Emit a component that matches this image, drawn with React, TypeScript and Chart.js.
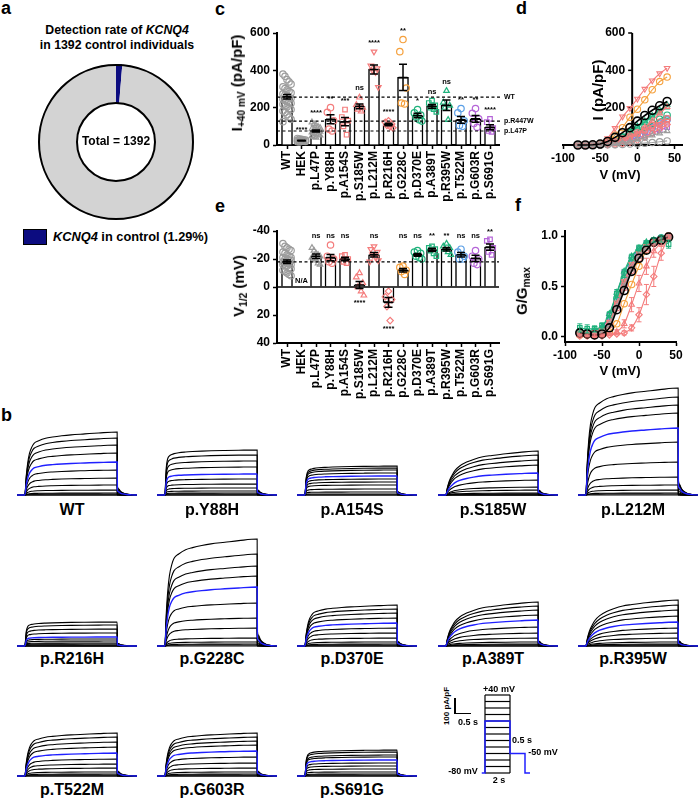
import React, { useEffect, useRef } from 'react';
import { Chart, registerables } from 'chart.js';

Chart.register(...registerables);

const FONT = '"Liberation Sans", Arial, Helvetica, sans-serif';
Chart.defaults.font.family = FONT;
Chart.defaults.color = '#000';

/* ================= DATA ================= */

/* panel a */
const aTotal = 1392;
const aCarriers = 18; // 1.29 %
const aLabels = ['KCNQ4 in control', 'Other'];

/* groups (panels c, d, e, f) */
const groups = ['WT', 'HEK', 'p.L47P', 'p.Y88H', 'p.A154S', 'p.S185W', 'p.L212M', 'p.R216H', 'p.G228C', 'p.D370E', 'p.A389T', 'p.R395W', 'p.T522M', 'p.G603R', 'p.S691G'];

/* panel c : I at +40 mV (pA/pF) */
const cMeans = [258, 24, 75, 138, 125, 207, 405, 110, 362, 158, 207, 213, 135, 140, 95];
const cSem = [12, 2, 5, 24, 22, 13, 24, 7, 70, 12, 10, 28, 18, 18, 13];
const cPoints = [
  [380, 368, 350, 338, 326, 312, 302, 295, 288, 280, 274, 268, 262, 256, 250, 245, 240, 235, 230, 224, 218, 210, 204, 196, 190, 182, 174, 162, 150, 138, 125],
  [35, 32, 30, 28, 26, 25, 24, 22, 20, 19, 18, 16],
  [122, 112, 105, 98, 92, 86, 82, 78, 75, 72, 68, 64, 60, 56, 52, 48, 44, 40],
  [200, 175, 130, 85, 75],
  [190, 150, 130, 100, 55],
  [255, 215, 200, 190, 180],
  [500, 425, 410, 400, 390, 310],
  [130, 122, 112, 105, 98, 92],
  [565, 500, 305, 225, 220],
  [190, 172, 160, 150, 135, 128],
  [238, 225, 212, 200, 192, 178],
  [290, 228, 212, 200, 135],
  [195, 172, 130, 105, 100],
  [195, 170, 140, 115, 95],
  [140, 122, 90, 75, 70],
];
const cSig = ['', '****', '****', '**', '***', 'ns', '****', '****', '**', '*', 'ns', 'ns', '**', '**', '****'];
const cRefValues = [257, 128, 75];
const cRefLabels = ['WT', 'p.R447W', 'p.L47P'];

/* panel e : V1/2 (mV) */
const eMeans = [-18, null, -22, -21, -20, -1.5, -23, 11, -12, -23, -26.5, -27, -23, -20.5, -28.5];
const eSem = [1.2, 0, 1.6, 2.3, 1.3, 2.5, 1.6, 3.5, 1.2, 1.0, 1.2, 1.3, 1.6, 2.2, 2.2];
const ePoints = [
  [-31, -29, -28, -27, -26, -25, -24, -23, -22, -21, -21, -20, -20, -19, -19, -18, -18, -17, -17, -16, -16, -15, -15, -14, -13, -12, -11, -10, -9, -8],
  [],
  [-28, -26, -24, -23, -22, -21, -20, -19, -17, -16],
  [-30, -22, -20, -18, -17],
  [-23, -22, -20, -18, -17],
  [-10, -7, -3, 0, 3, 6],
  [-29, -27, -25, -23, -21, -19, -18],
  [3, 7, 9, 14, 24],
  [-15, -14, -12, -11, -9],
  [-26, -25, -24, -22, -21, -20],
  [-29, -28, -27, -26, -24, -22],
  [-31, -29, -28, -27, -25, -23],
  [-27, -25, -22, -20, -20],
  [-26, -22, -20, -17, -16],
  [-34, -33, -28, -25, -23],
];
const eSig = ['', 'N/A', 'ns', 'ns', 'ns', '****', 'ns', '****', 'ns', 'ns', '**', '**', 'ns', 'ns', '**'];
const eSigBelow = [false, false, false, false, false, true, false, true, false, false, false, false, false, false, false];
const eRefValue = -18;

/* panels d, f */
const volts = [-80, -70, -60, -50, -40, -30, -20, -10, 0, 10, 20, 30, 40];
const dCurves = [
  [0, 0, 1, 5, 19, 41, 66, 93, 128, 158, 186, 210, 233],
  [0, 0, 0, 0, 1, 2, 3, 5, 7, 10, 13, 17, 22],
  [0, 0, 0, 1, 3, 7, 12, 20, 30, 40, 52, 63, 75],
  [0, 0, 0, 2, 8, 18, 32, 48, 66, 85, 104, 122, 140],
  [0, 0, 0, 2, 7, 16, 28, 42, 58, 75, 92, 108, 125],
  [0, 0, 0, 1, 3, 8, 18, 35, 60, 95, 130, 170, 205],
  [0, 0, 1, 5, 36, 90, 152, 197, 247, 300, 345, 383, 412],
  [0, 0, 0, 0, 1, 3, 7, 14, 25, 42, 63, 86, 110],
  [0, 0, 0, 4, 18, 54, 93, 149, 192, 242, 296, 340, 364],
  [0, 0, 0, 2, 9, 20, 36, 55, 75, 95, 117, 138, 160],
  [0, 0, 0, 3, 12, 26, 46, 70, 96, 122, 150, 178, 205],
  [0, 0, 0, 3, 12, 27, 48, 73, 100, 128, 157, 186, 215],
  [0, 0, 0, 2, 7, 15, 27, 40, 55, 72, 91, 113, 135],
  [0, 0, 0, 2, 7, 16, 28, 42, 58, 76, 96, 118, 140],
  [0, 0, 0, 1, 5, 11, 19, 28, 38, 50, 63, 79, 95],
];
const fCurves = [
  [0.04, 0.03, 0.02, 0.03, 0.09, 0.27, 0.46, 0.65, 0.78, 0.86, 0.94, 0.96, 0.99],
  null,
  [0.03, 0.03, 0.03, 0.05, 0.12, 0.3, 0.5, 0.67, 0.8, 0.88, 0.93, 0.97, 1.0],
  [0.03, 0.03, 0.03, 0.05, 0.12, 0.29, 0.49, 0.66, 0.78, 0.87, 0.93, 0.97, 1.0],
  [0.03, 0.03, 0.04, 0.06, 0.14, 0.32, 0.52, 0.68, 0.8, 0.88, 0.94, 0.97, 1.0],
  [0.02, 0.02, 0.02, 0.02, 0.03, 0.05, 0.13, 0.32, 0.53, 0.7, 0.85, 0.93, 0.98],
  [0.03, 0.03, 0.04, 0.06, 0.15, 0.34, 0.55, 0.72, 0.83, 0.9, 0.95, 0.98, 1.0],
  [0.01, 0.01, 0.01, 0.01, 0.02, 0.03, 0.04, 0.09, 0.22, 0.42, 0.6, 0.83, 0.99],
  [0.02, 0.02, 0.02, 0.03, 0.05, 0.13, 0.33, 0.52, 0.7, 0.86, 0.93, 0.97, 1.0],
  [0.05, 0.04, 0.05, 0.07, 0.17, 0.38, 0.58, 0.74, 0.85, 0.91, 0.95, 0.98, 1.0],
  [0.09, 0.08, 0.08, 0.11, 0.22, 0.43, 0.63, 0.79, 0.88, 0.93, 0.96, 0.97, 0.92],
  [0.07, 0.06, 0.07, 0.1, 0.23, 0.44, 0.65, 0.8, 0.88, 0.94, 0.96, 0.98, 0.99],
  [0.04, 0.04, 0.05, 0.07, 0.16, 0.35, 0.56, 0.72, 0.84, 0.91, 0.95, 0.98, 1.0],
  [0.03, 0.03, 0.04, 0.06, 0.14, 0.32, 0.52, 0.69, 0.81, 0.89, 0.94, 0.97, 1.0],
  [0.05, 0.05, 0.06, 0.09, 0.21, 0.43, 0.64, 0.78, 0.87, 0.93, 0.96, 0.98, 1.0],
];
const fSem = [
  null, null, null, null, null,
  [0.01, 0.01, 0.01, 0.01, 0.01, 0.02, 0.04, 0.07, 0.08, 0.08, 0.06, 0.03, 0.01],
  null,
  [0.01, 0.01, 0.01, 0.01, 0.01, 0.01, 0.02, 0.03, 0.07, 0.1, 0.1, 0.07, 0.02],
  null, null,
  [0.04, 0.04, 0.03, 0.03, 0.03, 0.04, 0.04, 0.03, 0.03, 0.02, 0.02, 0.03, 0.04],
  null, null, null, null,
];

/* panel b : current traces (pA/pF) */
const traceNames = ['WT', 'p.Y88H', 'p.A154S', 'p.S185W', 'p.L212M', 'p.R216H', 'p.G228C', 'p.D370E', 'p.A389T', 'p.R395W', 'p.T522M', 'p.G603R', 'p.S691G'];
const traceT = [-0.17, 0, 0.03, 0.06, 0.1, 0.15, 0.2, 0.3, 0.45, 0.6, 0.8, 1.0, 1.3, 1.6, 2.0, 2.005, 2.03, 2.07, 2.12, 2.2, 2.3, 2.43];
const shapeMid = [0, 0, 0.3, 0.5, 0.66, 0.76, 0.82, 0.86, 0.9, 0.92, 0.94, 0.955, 0.97, 0.985, 1.0, 0.14, 0.1, 0.06, 0.035, 0.015, 0.005, 0];
const shapeFast = [0, 0, 0.6, 0.8, 0.87, 0.9, 0.92, 0.94, 0.955, 0.965, 0.975, 0.983, 0.99, 0.995, 1.0, 0.14, 0.1, 0.06, 0.035, 0.015, 0.005, 0];
const shapeSlow = [0, 0, 0.15, 0.27, 0.38, 0.48, 0.56, 0.66, 0.75, 0.81, 0.87, 0.9, 0.94, 0.97, 1.0, 0.14, 0.1, 0.06, 0.035, 0.015, 0.005, 0];
const traceKinetics = ['mid', 'fast', 'fast', 'slow', 'mid', 'fast', 'mid', 'mid', 'slow', 'slow', 'mid', 'mid', 'fast'];
const traceAmps = [
  [0, 0, 7, 13, 33, 67, 113, 167, 220, 280, 333, 380, 420],
  [0, 0, 7, 13, 27, 47, 73, 107, 140, 187, 227, 267, 300],
  [0, 0, 7, 20, 40, 67, 87, 107, 127, 147, 167, 180, 193],
  [0, 0, 0, 7, 13, 33, 53, 100, 147, 200, 233, 267, 293],
  [0, 7, 13, 33, 67, 120, 220, 353, 447, 547, 600, 653, 713],
  [0, 0, 0, 7, 13, 20, 33, 47, 60, 87, 113, 140, 160],
  [0, 7, 13, 27, 53, 120, 187, 287, 393, 467, 533, 613, 713],
  [0, 0, 7, 13, 27, 53, 87, 120, 153, 187, 220, 247, 273],
  [0, 0, 7, 13, 27, 53, 87, 127, 173, 207, 240, 267, 293],
  [0, 0, 7, 13, 27, 53, 87, 120, 160, 200, 240, 273, 307],
  [0, 0, 7, 13, 27, 53, 80, 113, 153, 193, 227, 260, 287],
  [0, 0, 7, 13, 27, 53, 87, 127, 167, 207, 233, 260, 287],
  [0, 0, 7, 13, 27, 47, 67, 87, 107, 127, 140, 160, 173],
];
const blueSweep = 8; // 0 mV sweep

/* voltage protocol */
const protoLevels = [-80, -70, -60, -50, -40, -30, -20, -10, 0, 10, 20, 30, 40];
const protoStepDur = 2;
const protoBlueT = [-0.26, 0, 0, 2, 2, 3.2, 3.2, 3.6];
const protoBlueV = [-80, -80, 0, 0, -50, -50, -80, -80];

/* ================= STYLES ================= */
const GREY = '#9c9c9c';
const PINK = '#f47c7c';
const ORANGE = '#f5a03c';
const GREEN = '#1fb27c';
const BLUE = '#5b9fe6';
const PURPLE = '#b565d8';
const NAVY = '#0c0c80';
const TRACE_BLUE = '#2020ff';
const groupColor = [GREY, GREY, GREY, PINK, PINK, PINK, PINK, PINK, ORANGE, GREEN, GREEN, GREEN, BLUE, PURPLE, PURPLE];
const groupMarker = ['circle', 'circle', 'triangle', 'circle', 'rect', 'triangle', 'triangle', 'rectRot', 'circle', 'circle', 'rect', 'triangle', 'circle', 'circle', 'rect'];
const groupRot = [0, 0, 0, 0, 0, 0, 180, 0, 0, 0, 0, 0, 0, 0, 0];

const tickFont = { size: 12, weight: 'bold' as const, family: FONT };

function jitter(k: number, n: number) {
  if (n > 8) {
    const cols = 5;
    return ((k % cols) - (cols - 1) / 2) * 0.14;
  }
  const pat = [0, -0.22, 0.22, -0.11, 0.11, 0.3, -0.3];
  return pat[k % pat.length];
}

const baseOptions = () => ({
  animation: false,
  responsive: false,
  maintainAspectRatio: false,
  devicePixelRatio: 1,
  events: [],
});

/* ================= PLUGINS ================= */
function errPlugin(id: string, items: any[], cap: number, mean: number, lw: number) {
  return {
    id,
    afterDatasetsDraw(chart: any) {
      const { ctx, scales } = chart;
      const xs = scales.x;
      const ys = scales.y;
      ctx.save();
      ctx.lineWidth = lw;
      for (const it of items) {
        if (it.y == null) continue;
        const px = xs.getPixelForValue(it.x);
        const p1 = ys.getPixelForValue(it.y - it.e);
        const p2 = ys.getPixelForValue(it.y + it.e);
        const pm = ys.getPixelForValue(it.y);
        ctx.strokeStyle = it.color || '#000';
        ctx.beginPath();
        ctx.moveTo(px, p1);
        ctx.lineTo(px, p2);
        ctx.moveTo(px - cap, p1);
        ctx.lineTo(px + cap, p1);
        ctx.moveTo(px - cap, p2);
        ctx.lineTo(px + cap, p2);
        if (mean > 0) {
          ctx.moveTo(px - mean, pm);
          ctx.lineTo(px + mean, pm);
        }
        ctx.stroke();
      }
      ctx.restore();
    },
  };
}

function sigPlugin(id: string, items: any[]) {
  return {
    id,
    afterDatasetsDraw(chart: any) {
      const { ctx, scales } = chart;
      ctx.save();
      ctx.fillStyle = '#000';
      ctx.font = `bold 7.5px ${FONT}`;
      ctx.textAlign = 'center';
      ctx.textBaseline = 'middle';
      for (const it of items) {
        if (!it.text) continue;
        ctx.fillText(it.text, scales.x.getPixelForValue(it.x), scales.y.getPixelForValue(it.v) + it.dy);
      }
      ctx.restore();
    },
  };
}

function hLinePlugin(id: string, lines: any[]) {
  return {
    id,
    afterDatasetsDraw(chart: any) {
      const { ctx, chartArea, scales } = chart;
      ctx.save();
      for (const ln of lines) {
        const py = scales.y.getPixelForValue(ln.v);
        ctx.strokeStyle = '#000';
        ctx.lineWidth = ln.width;
        ctx.setLineDash(ln.dash);
        ctx.beginPath();
        ctx.moveTo(chartArea.left, py);
        ctx.lineTo(chartArea.right + ln.ext, py);
        ctx.stroke();
        if (ln.label) {
          ctx.setLineDash([]);
          ctx.fillStyle = '#000';
          ctx.font = `bold 7px ${FONT}`;
          ctx.textAlign = 'left';
          ctx.textBaseline = 'middle';
          ctx.fillText(ln.label, chartArea.right + ln.ext + 2, py);
        }
      }
      ctx.restore();
    },
  };
}

const ringPlugin = {
  id: 'ringBorder',
  afterDatasetsDraw(chart: any) {
    const arc = chart.getDatasetMeta(0).data[0];
    if (!arc) return;
    const { x, y, outerRadius, innerRadius } = arc.getProps(['x', 'y', 'outerRadius', 'innerRadius'], true);
    const ctx = chart.ctx;
    ctx.save();
    ctx.strokeStyle = '#000';
    ctx.lineWidth = 2;
    ctx.beginPath();
    ctx.arc(x, y, outerRadius - 1, 0, Math.PI * 2);
    ctx.stroke();
    ctx.beginPath();
    ctx.arc(x, y, innerRadius, 0, Math.PI * 2);
    ctx.stroke();
    ctx.restore();
  },
};

const D_YAXIS_AT = -7;
const dYAxisPlugin = {
  id: 'dYAxis',
  beforeDatasetsDraw(chart: any) {
    const { ctx, scales } = chart;
    const px = scales.x.getPixelForValue(D_YAXIS_AT);
    const top = scales.y.getPixelForValue(600);
    const bot = scales.y.getPixelForValue(0);
    ctx.save();
    ctx.strokeStyle = '#000';
    ctx.lineWidth = 2;
    ctx.beginPath();
    ctx.moveTo(px, top);
    ctx.lineTo(px, bot);
    ctx.stroke();
    ctx.lineWidth = 1.5;
    ctx.font = `bold 12px ${FONT}`;
    ctx.fillStyle = '#000';
    ctx.textAlign = 'right';
    ctx.textBaseline = 'middle';
    for (const v of [200, 400, 600]) {
      const py = scales.y.getPixelForValue(v);
      ctx.beginPath();
      ctx.moveTo(px - 4, py);
      ctx.lineTo(px, py);
      ctx.stroke();
      ctx.fillText(String(v), px - 7, py);
    }
    ctx.restore();
  },
};

/* ================= CONFIGS ================= */
function axisCommon() {
  return {
    grid: { display: true, drawOnChartArea: false, drawTicks: true, tickLength: 4, tickWidth: 1.5, tickColor: '#000', offset: false },
    border: { display: true, color: '#000', width: 2 },
  };
}

function doughnutConfig() {
  return {
    type: 'doughnut',
    data: {
      labels: aLabels,
      datasets: [{ data: [aCarriers, aTotal - aCarriers], backgroundColor: [NAVY, '#d3d3d3'], borderWidth: 0 }],
    },
    options: {
      ...baseOptions(),
      cutout: '50%',
      layout: { padding: 2 },
      plugins: { legend: { display: false }, tooltip: { enabled: false } },
    },
    plugins: [ringPlugin],
  };
}

function catXScale(height: number) {
  return {
    type: 'linear',
    min: -0.69,
    max: 14.62,
    offset: false,
    ...axisCommon(),
    afterBuildTicks: (s: any) => {
      s.ticks = groups.map((_, i) => ({ value: i }));
    },
    ticks: {
      autoSkip: false,
      minRotation: 90,
      maxRotation: 90,
      padding: 2,
      font: tickFont,
      color: '#000',
      callback: (v: any) => groups[Math.round(Number(v))] ?? '',
    },
    afterFit: (s: any) => {
      s.height = height;
    },
  };
}

function scatterSets(points: number[][]) {
  return points.map((pts, i) => ({
    type: 'scatter',
    data: pts.map((v, k) => ({ x: i + jitter(k, pts.length), y: v })),
    pointStyle: groupMarker[i],
    pointRotation: groupRot[i],
    pointRadius: 3.2,
    pointBorderWidth: 1.2,
    pointBorderColor: groupColor[i],
    pointBackgroundColor: 'rgba(255,255,255,0)',
    showLine: false,
    order: 1,
    clip: false,
  }));
}

function cConfig() {
  const bars = {
    type: 'bar',
    data: cMeans.map((m, i) => ({ x: i, y: m })),
    backgroundColor: '#fff',
    borderColor: '#000',
    borderWidth: 1.5,
    barThickness: 11,
    order: 5,
  };
  const errs = cMeans.map((m, i) => ({ x: i, y: m, e: cSem[i] }));
  const sigs = cPoints.map((pts, i) => ({ x: i, v: Math.max(...pts), dy: -9, text: cSig[i] }));
  return {
    type: 'bar',
    data: { datasets: [...scatterSets(cPoints), bars] },
    options: {
      ...baseOptions(),
      layout: { padding: { left: 0, right: 56, top: 33, bottom: 0 } },
      plugins: { legend: { display: false }, tooltip: { enabled: false } },
      scales: {
        x: catXScale(65),
        y: {
          type: 'linear',
          min: 0,
          max: 600,
          ...axisCommon(),
          ticks: { stepSize: 200, font: tickFont, color: '#000', padding: 3 },
          afterFit: (s: any) => {
            s.width = 57;
          },
        },
      },
    },
    plugins: [
      errPlugin('cErr', errs, 4, 4.5, 1.5),
      sigPlugin('cSig', sigs),
      hLinePlugin('cRef', cRefValues.map((v, i) => ({ v, label: cRefLabels[i], dash: [3, 2.5], width: 1.2, ext: 3 }))),
    ],
  };
}

function eConfig() {
  const bars = {
    type: 'bar',
    data: eMeans.map((m, i) => ({ x: i, y: m })),
    backgroundColor: '#fff',
    borderColor: '#000',
    borderWidth: 1.5,
    barThickness: 11,
    order: 5,
  };
  const errs = eMeans.map((m, i) => ({ x: i, y: m, e: eSem[i] }));
  const sigs = ePoints.map((pts, i) => {
    if (eSig[i] === 'N/A') return { x: i, v: 0, dy: -6, text: 'N/A' };
    if (!pts.length) return { x: i, v: 0, dy: 0, text: '' };
    if (eSigBelow[i]) return { x: i, v: Math.max(...pts), dy: 8, text: eSig[i] };
    return { x: i, v: Math.min(-36.5, Math.min(...pts) - 5.5), dy: 0, text: eSig[i] };
  });
  return {
    type: 'bar',
    data: { datasets: [...scatterSets(ePoints), bars] },
    options: {
      ...baseOptions(),
      layout: { padding: { left: 0, right: 56, top: 31, bottom: 0 } },
      plugins: { legend: { display: false }, tooltip: { enabled: false } },
      scales: {
        x: catXScale(57),
        y: {
          type: 'linear',
          reverse: true,
          min: -40,
          max: 40,
          ...axisCommon(),
          ticks: { stepSize: 20, font: tickFont, color: '#000', padding: 3 },
          afterFit: (s: any) => {
            s.width = 57;
          },
        },
      },
    },
    plugins: [
      hLinePlugin('eRef', [
        { v: 0, dash: [], width: 1.5, ext: 0 },
        { v: eRefValue, dash: [3, 2.5], width: 1.2, ext: 0 },
      ]),
      errPlugin('eErr', errs, 4, 4.5, 1.5),
      sigPlugin('eSig', sigs),
    ],
  };
}

function curveSets(curves: any[], smooth: boolean) {
  const out: any[] = [];
  curves.forEach((c, i) => {
    if (!c) return;
    const wt = i === 0;
    const col = wt ? '#000' : groupColor[i];
    out.push({
      type: 'line',
      label: groups[i],
      data: volts.map((v, k) => ({ x: v, y: c[k] })),
      borderColor: col,
      borderWidth: wt ? 1.6 : 1.1,
      pointStyle: groupMarker[i],
      pointRotation: groupRot[i],
      pointRadius: wt ? 4 : 3.2,
      pointBorderWidth: wt ? 1.6 : 1.1,
      pointBorderColor: col,
      pointBackgroundColor: 'rgba(255,255,255,0)',
      cubicInterpolationMode: smooth ? 'monotone' : 'default',
      tension: 0,
      order: wt ? 0 : 1,
      clip: false,
    });
  });
  return out;
}

function dConfig() {
  return {
    type: 'line',
    data: { datasets: curveSets(dCurves, false) },
    options: {
      ...baseOptions(),
      layout: { padding: { left: 23, right: 17, top: 33, bottom: 0 } },
      plugins: { legend: { display: false }, tooltip: { enabled: false } },
      scales: {
        x: {
          type: 'linear',
          min: -100,
          max: 60,
          ...axisCommon(),
          afterBuildTicks: (s: any) => {
            s.ticks = [-100, -50, 0, 50].map((value) => ({ value }));
          },
          ticks: { font: tickFont, color: '#000', padding: 2, maxRotation: 0 },
          afterFit: (s: any) => {
            s.height = 25;
          },
        },
        y: { type: 'linear', min: 0, max: 600, display: false },
      },
    },
    plugins: [dYAxisPlugin],
  };
}

function fConfig() {
  const errs: any[] = [];
  fSem.forEach((s, i) => {
    if (!s || !fCurves[i]) return;
    volts.forEach((v, k) => errs.push({ x: v, y: (fCurves[i] as number[])[k], e: s[k], color: groupColor[i] }));
  });
  return {
    type: 'line',
    data: { datasets: curveSets(fCurves, true) },
    options: {
      ...baseOptions(),
      layout: { padding: { left: 0, right: 23, top: 31, bottom: 0 } },
      plugins: { legend: { display: false }, tooltip: { enabled: false } },
      scales: {
        x: {
          type: 'linear',
          min: -100,
          max: 50,
          ...axisCommon(),
          afterBuildTicks: (s: any) => {
            s.ticks = [-100, -50, 0, 50].map((value) => ({ value }));
          },
          ticks: { font: tickFont, color: '#000', padding: 2, maxRotation: 0 },
          afterFit: (s: any) => {
            s.height = 38;
          },
        },
        y: {
          type: 'linear',
          min: -0.05,
          max: 1.05,
          ...axisCommon(),
          afterBuildTicks: (s: any) => {
            s.ticks = [0, 0.5, 1].map((value) => ({ value }));
          },
          ticks: { font: tickFont, color: '#000', padding: 3, callback: (v: any) => Number(v).toFixed(1) },
          afterFit: (s: any) => {
            s.width = 45;
          },
        },
      },
    },
    plugins: [errPlugin('fErr', errs, 2.5, 0, 1)],
  };
}

function traceConfig(p: number) {
  const shape = traceKinetics[p] === 'fast' ? shapeFast : traceKinetics[p] === 'slow' ? shapeSlow : shapeMid;
  const datasets = traceAmps[p].map((amp, i) => ({
    data: traceT.map((t, k) => ({ x: t, y: amp * shape[k] })),
    borderColor: i === blueSweep ? TRACE_BLUE : '#000',
    borderWidth: i === blueSweep ? 1.4 : 1.1,
    pointRadius: 0,
    cubicInterpolationMode: 'monotone',
    order: i === blueSweep ? 0 : 1,
    clip: false,
  }));
  return {
    type: 'line',
    data: { datasets },
    options: {
      ...baseOptions(),
      layout: { padding: 0 },
      plugins: { legend: { display: false }, tooltip: { enabled: false } },
      scales: {
        x: { type: 'linear', display: false, min: -0.17, max: 2.43 },
        y: { type: 'linear', display: false, min: -13.33, max: 753.33 },
      },
    },
  };
}

function protoConfig() {
  const datasets: any[] = protoLevels.map((L) => ({
    data: [
      { x: 0, y: L },
      { x: protoStepDur, y: L },
    ],
    borderColor: '#000',
    borderWidth: 1.2,
    pointRadius: 0,
    order: 2,
    clip: false,
  }));
  [0, protoStepDur].forEach((t) =>
    datasets.push({
      data: [
        { x: t, y: protoLevels[0] },
        { x: t, y: protoLevels[protoLevels.length - 1] },
      ],
      borderColor: '#000',
      borderWidth: 1.2,
      pointRadius: 0,
      order: 2,
      clip: false,
    })
  );
  datasets.push({
    data: protoBlueT.map((t, k) => ({ x: t, y: protoBlueV[k] })),
    borderColor: TRACE_BLUE,
    borderWidth: 1.5,
    pointRadius: 0,
    order: 0,
    clip: false,
  });
  return {
    type: 'line',
    data: { datasets },
    options: {
      ...baseOptions(),
      layout: { padding: 0 },
      plugins: { legend: { display: false }, tooltip: { enabled: false } },
      scales: {
        x: { type: 'linear', display: false, min: -0.64, max: 4.16 },
        y: { type: 'linear', display: false, min: -90.77, max: 47.69 },
      },
    },
  };
}

/* ================= COMPONENTS ================= */
function ChartBox({ left, top, width, height, config }: { left: number; top: number; width: number; height: number; config: () => any }) {
  const ref = useRef<HTMLCanvasElement | null>(null);
  useEffect(() => {
    if (!ref.current) return;
    const chart = new Chart(ref.current, config());
    return () => chart.destroy();
  }, []);
  return <canvas ref={ref} width={width} height={height} style={{ position: 'absolute', left, top, width, height }} />;
}

function Txt(props: { x: number; y: number; size: number; anchor?: string; rotate?: number; bold?: boolean; children: any }) {
  const { x, y, size, anchor = 'center', rotate = 0, bold = true, children } = props;
  const tx = anchor === 'left' ? '0%' : anchor === 'right' ? '-100%' : '-50%';
  return (
    <div
      style={{
        position: 'absolute',
        left: x,
        top: y,
        fontSize: size,
        fontWeight: bold ? 700 : 400,
        lineHeight: 1,
        whiteSpace: 'nowrap',
        color: '#000',
        transform: `translate(${tx}, -50%)${rotate ? ` rotate(${rotate}deg)` : ''}`,
        transformOrigin: anchor === 'left' ? 'left center' : 'center center',
      }}
    >
      {children}
    </div>
  );
}

const sub = (s: string) => <span style={{ fontSize: '0.68em', verticalAlign: '-0.3em' }}>{s}</span>;

const traceLeft = [17, 157, 297, 438, 578, 17, 157, 297, 438, 578, 17, 157, 297];
const traceBase = [495, 495, 495, 495, 495, 646, 646, 646, 646, 646, 776, 776, 776];
const traceLabelY = [510, 510, 510, 510, 510, 659, 659, 659, 659, 659, 790, 790, 790];
const TRACE_H = 115;

export default function App() {
  return (
    <div style={{ position: 'absolute', left: 0, top: 0, width: 699, height: 799, background: '#fff', overflow: 'hidden', fontFamily: FONT }}>
      {/* panel letters */}
      <Txt x={1} y={8} size={18} anchor="left">a</Txt>
      <Txt x={1} y={415} size={18} anchor="left">b</Txt>
      <Txt x={215} y={9} size={18} anchor="left">c</Txt>
      <Txt x={516} y={8} size={18} anchor="left">d</Txt>
      <Txt x={215} y={206} size={18} anchor="left">e</Txt>
      <Txt x={515} y={205} size={18} anchor="left">f</Txt>

      {/* panel a */}
      <Txt x={117} y={30} size={12.3}>
        Detection rate of <i>KCNQ4</i>
      </Txt>
      <Txt x={117} y={45} size={12.3}>in 1392 control individuals</Txt>
      <ChartBox left={36} top={62} width={160} height={160} config={doughnutConfig} />
      <Txt x={116} y={141} size={12}>Total = 1392</Txt>
      <div style={{ position: 'absolute', left: 23, top: 229, width: 24, height: 16, background: NAVY, border: '1.5px solid #000', boxSizing: 'border-box' }} />
      <Txt x={53} y={237} size={12.8} anchor="left">
        <i>KCNQ4</i> in control (1.29%)
      </Txt>

      {/* panel c */}
      <ChartBox left={220} top={0} width={335} height={210} config={cConfig} />
      <Txt x={238} y={83} size={15} rotate={-90}>
        I{sub('+40 mV')} (pA/pF)
      </Txt>

      {/* panel e */}
      <ChartBox left={220} top={200} width={335} height={200} config={eConfig} />
      <Txt x={240} y={286} size={15} rotate={-90}>
        V{sub('1/2')} (mV)
      </Txt>

      {/* panel d */}
      <ChartBox left={540} top={0} width={159} height={170} config={dConfig} />
      <Txt x={597} y={90} size={15} rotate={-90}>I (pA/pF)</Txt>
      <Txt x={620} y={174} size={13}>V (mV)</Txt>

      {/* panel f */}
      <ChartBox left={520} top={200} width={179} height={180} config={fConfig} />
      <Txt x={523} y={291} size={15} rotate={-90}>
        G/G{sub('max')}
      </Txt>
      <Txt x={620} y={370} size={13}>V (mV)</Txt>

      {/* panel b traces */}
      {traceNames.map((name, p) => (
        <React.Fragment key={name}>
          <ChartBox left={traceLeft[p]} top={traceBase[p] - (TRACE_H - 2)} width={120} height={TRACE_H} config={() => traceConfig(p)} />
          <Txt x={traceLeft[p] + 55} y={traceLabelY[p]} size={16}>
            {name}
          </Txt>
        </React.Fragment>
      ))}

      {/* protocol + scale bar */}
      <ChartBox left={477} top={690} width={60} height={90} config={protoConfig} />
      <div style={{ position: 'absolute', left: 454, top: 698, width: 1.5, height: 16, background: '#000' }} />
      <div style={{ position: 'absolute', left: 454, top: 712.5, width: 17, height: 1.5, background: '#000' }} />
      <Txt x={447} y={706} size={8} rotate={-90}>100 pA/pF</Txt>
      <Txt x={468} y={722} size={9}>0.5 s</Txt>
      <Txt x={499} y={689} size={9}>+40 mV</Txt>
      <Txt x={522} y={740} size={9}>0.5 s</Txt>
      <Txt x={543} y={752} size={9}>-50 mV</Txt>
      <Txt x={463} y={771} size={9}>-80 mV</Txt>
      <Txt x={499} y={780} size={9}>2 s</Txt>
    </div>
  );
}
